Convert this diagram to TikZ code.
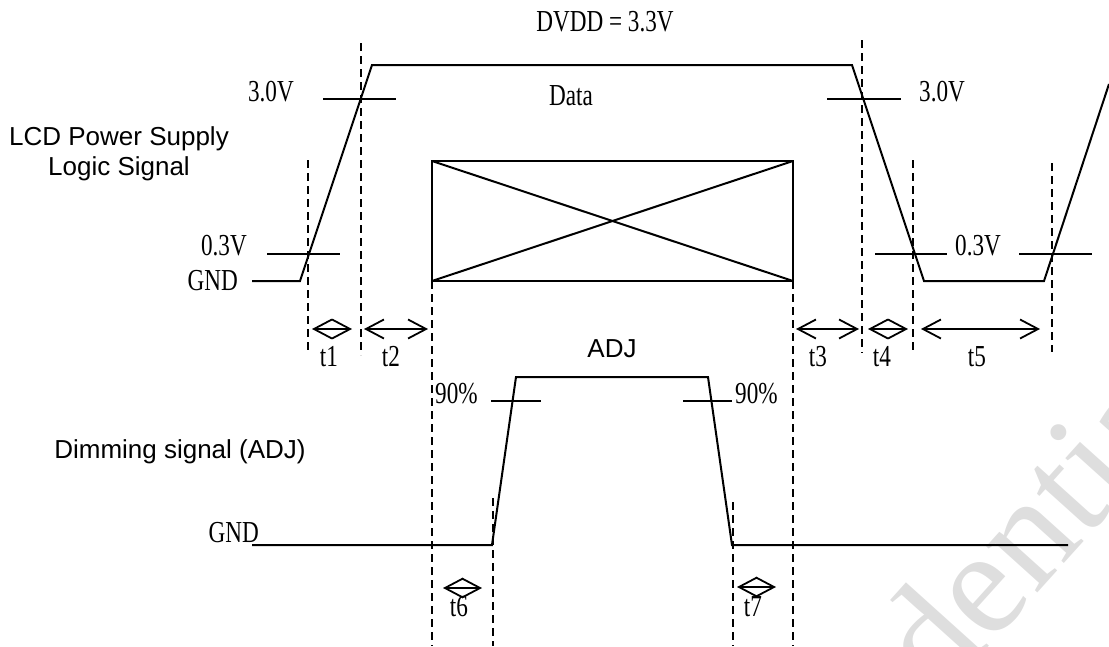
\documentclass[tikz,border=0pt]{standalone}
\usepackage{fontspec}
\setmainfont{Liberation Serif}
\newfontfamily\tfont[FakeStretch=0.76]{Liberation Serif}
\newfontfamily\sfont{Liberation Sans}
\usetikzlibrary{arrows.meta}
\begin{document}
\begin{tikzpicture}[x=1pt,y=-1pt,
  sig/.style={line width=2pt, line join=miter},
  guide/.style={line width=1.8pt, dash pattern=on 8pt off 5pt},
  thr/.style={line width=2pt},
  dimarrow/.style={line width=1.5pt, {Straight Barb[length=18pt,width=19pt,line width=1.8pt]}-{Straight Barb[length=18pt,width=19pt,line width=1.8pt]}},
  lbl/.style={font=\tfont\fontsize{30.5}{32}\selectfont, inner sep=0pt},
  slbl/.style={font=\sfont\fontsize{26}{30}\selectfont, inner sep=0pt, align=center},
  wmark/.style={font=\fontsize{150}{150}\selectfont, text=black!13, inner sep=0pt, rotate=48},
]
\useasboundingbox (0,0) rectangle (1109,646);

% watermark
\node[wmark, anchor=base west] (wm) at (712,955) {Confidential};

% ---------- LCD power supply / logic signal ----------
\coordinate (g0) at (252,281);
\coordinate (r1b) at (300,281);
\coordinate (r1t) at (372,65);
\coordinate (f1t) at (852,65);
\coordinate (f1b) at (924,281);
\coordinate (r2b) at (1044,281);
\coordinate (r2e) at (1109,84);
\draw[sig] (g0) -- (r1b) -- (r1t) -- (f1t) -- (f1b) -- (r2b) -- (r2e);

% data box
\coordinate (dbl) at (432,281);
\coordinate (dtl) at (432,161);
\coordinate (dtr) at (793,161);
\coordinate (dbr) at (793,281);
\draw[sig] (dbl) rectangle (dtr);
\draw[sig] (dbl) -- (dtr);
\draw[sig] (dtl) -- (dbr);

% threshold marks
\draw[thr] (323,99) -- (396,99);
\draw[thr] (267,254) -- (340,254);
\draw[thr] (827,99) -- (901,99);
\draw[thr] (875,254) -- (947,254);
\draw[thr] (1019,254) -- (1092,254);

% guides
\draw[guide] (308,160) -- (308,350);
\draw[guide] (361,43) -- (361,355);
\draw[guide] (432,281) -- (432,646);
\draw[guide] (793,281) -- (793,646);
\draw[guide] (862,40) -- (862,353);
\draw[guide] (913,160) -- (913,350);
\draw[guide] (1052,163) -- (1052,352);

% labels
\node[lbl] (dvdd) at (605,22) {DVDD = 3.3V};
\node[lbl] (data) at (571,96) {Data};
\node[lbl,anchor=east] (v30l) at (294,92) {3.0V};
\node[lbl,anchor=west] (v30r) at (919,92) {3.0V};
\node[lbl,anchor=east] (v03l) at (247,246) {0.3V};
\node[lbl,anchor=west] (v03r) at (955,246) {0.3V};
\node[lbl,anchor=east] (gnd1) at (238,281) {GND};
\node[slbl] (lcd) at (119,154) {LCD Power Supply\\Logic Signal};

% timing arrows
\coordinate (a1l) at (312,329); \coordinate (a1r) at (352,329);
\coordinate (a2l) at (364,329); \coordinate (a2r) at (428,329);
\coordinate (a3l) at (796,329); \coordinate (a3r) at (859,329);
\coordinate (a4l) at (868,329); \coordinate (a4r) at (908,329);
\coordinate (a5l) at (921,329); \coordinate (a5r) at (1040,329);
\draw[dimarrow] (a1l) -- (a1r);
\draw[dimarrow] (a2l) -- (a2r);
\draw[dimarrow] (a3l) -- (a3r);
\draw[dimarrow] (a4l) -- (a4r);
\draw[dimarrow] (a5l) -- (a5r);
\node[lbl] (t1) at (329,357) {t1};
\node[lbl] (t2) at (391,357) {t2};
\node[lbl] (t3) at (818,357) {t3};
\node[lbl] (t4) at (882,357) {t4};
\node[lbl] (t5) at (977,357) {t5};

% ---------- Dimming signal ----------
\coordinate (h0) at (252,545);
\coordinate (hr1) at (492,545);
\coordinate (hr2) at (516,377);
\coordinate (hf1) at (708,377);
\coordinate (hf2) at (732,545);
\coordinate (h1) at (1068,545);
\draw[sig] (h0) -- (hr1) -- (hr2) -- (hf1) -- (hf2) -- (h1);
\draw[thr] (491,401) -- (541,401);
\draw[thr] (683,401) -- (732,401);
\draw[guide] (493,498) -- (493,646);
\draw[guide] (733,502) -- (733,646);

\node[slbl] (adj) at (612,349) {ADJ};
\node[lbl,anchor=west] (p90l) at (435,394) {90\%};
\node[lbl,anchor=west] (p90r) at (735,394) {90\%};
\node[lbl,anchor=base east] (gnd2) at (259,542) {GND};
\node[slbl] (dim) at (180,452) {Dimming signal (ADJ)};

\coordinate (a6l) at (443,588); \coordinate (a6r) at (482,588);
\coordinate (a7l) at (737,587); \coordinate (a7r) at (776,587);
\draw[dimarrow] (a6l) -- (a6r);
\draw[dimarrow] (a7l) -- (a7r);
\node[lbl] (t6) at (459,607) {t6};
\node[lbl] (t7) at (753,607) {t7};
\end{tikzpicture}
\end{document}
